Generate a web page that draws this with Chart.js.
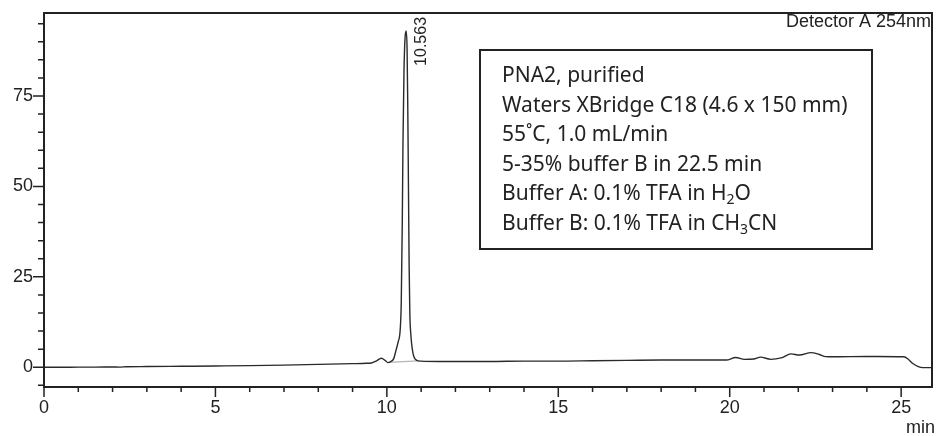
<!DOCTYPE html>
<html>
<head>
<meta charset="utf-8">
<title>PNA2 HPLC</title>
<script src="https://cdn.jsdelivr.net/npm/chart.js@4.4.0/dist/chart.umd.min.js"></script>
<style>
  html, body { margin: 0; padding: 0; background: #fff; }
  #wrap { width: 938px; height: 436px; }
</style>
</head>
<body>
<div id="wrap"><canvas id="chrom" width="938" height="436"></canvas></div>
<script>
// Cromatograma PNA2 purificado, detector A 254 nm
const tiempos = [0, 0.5, 1, 1.5, 2, 2.2, 2.4, 3, 4, 5, 6, 7, 8, 9, 9.4, 9.55, 9.7, 9.84, 9.95, 10.03,
    10.1, 10.2, 10.27, 10.33, 10.39, 10.42, 10.45, 10.47, 10.5, 10.53, 10.563, 10.59, 10.61, 10.63,
    10.65, 10.67, 10.7, 10.76, 10.86, 11, 11.5, 12, 13, 14, 15, 16, 17, 18, 19, 19.9, 20.17, 20.43,
    20.7, 20.9, 21.2, 21.5, 21.79, 22.03, 22.37, 22.6, 22.8, 23, 24, 24.3, 25.07, 25.2, 25.33, 25.5,
    25.63, 25.9];
const senal = [0, 0, 0.05, 0.05, 0.1, 0.05, 0.15, 0.2, 0.28, 0.36, 0.45, 0.6, 0.8, 1.0, 1.1, 1.2,
    1.8, 2.5, 1.9, 1.3, 1.5, 2.4, 4.8, 7, 10.5, 18, 40, 62, 82, 91, 93, 88, 72, 50, 28, 15, 9, 4, 2,
    1.7, 1.6, 1.6, 1.6, 1.7, 1.7, 1.8, 1.9, 2.0, 2.0, 2.0, 2.7, 2.2, 2.3, 2.8, 2.2, 2.6, 3.7, 3.4,
    4.05, 3.6, 2.95, 2.9, 3.0, 3.0, 2.9, 2.3, 1.1, 0.2, -0.1, -0.1];

// linea base de integracion del pico
const baseTiempos = [10.05, 10.9];
const baseSenal = [1.35, 1.75];

const picoTiempo = 10.563;
const picoAltura = 93;

const xTicks = [0, 5, 10, 15, 20, 25];
const yTicks = [0, 25, 50, 75];

// texto del recuadro: [texto, subindice]
const info = [
    [["PNA2, purified", false]],
    [["Waters XBridge C18 (4.6 x 150 mm)", false]],
    [["55\u02DAC, 1.0 mL/min", false]],
    [["5-35% buffer B in 22.5 min", false]],
    [["Buffer A: 0.1% TFA in H", false], ["2", true], ["O", false]],
    [["Buffer B: 0.1% TFA in CH", false], ["3", true], ["CN", false]]
];

const tinta = '#222';
const fuenteEje = "'Liberation Sans', Arial, sans-serif";

const marco = {
    id: 'marco',
    afterDraw(chart) {
        const { ctx, chartArea: a, scales: { x, y } } = chart;
        ctx.save();
        ctx.strokeStyle = tinta;
        ctx.lineWidth = 1.5;

        // marcas del eje x (cada minuto, mayores cada 5)
        ctx.beginPath();
        for (let v = 0; v <= 25; v++) {
            const px = x.getPixelForValue(v);
            ctx.moveTo(px, a.bottom);
            ctx.lineTo(px, a.bottom + (v % 5 === 0 ? 10 : 5));
        }
        // marcas del eje y (cada 5, mayores cada 25)
        for (let v = -5; v <= 95; v += 5) {
            const py = y.getPixelForValue(v);
            ctx.moveTo(a.left, py);
            ctx.lineTo(a.left - (v % 25 === 0 ? 11 : 6), py);
        }
        ctx.stroke();

        // marco del grafico
        ctx.lineWidth = 2;
        ctx.strokeRect(a.left, a.top, a.right - a.left, a.bottom - a.top);

        // detector y unidades
        ctx.fillStyle = tinta;
        ctx.font = '18px ' + fuenteEje;
        ctx.textBaseline = 'middle';
        ctx.textAlign = 'right';
        ctx.fillText('Detector A 254nm', a.right - 1, a.top + 9.5);
        ctx.fillText('min', 935, 428);

        // tiempo de retencion del pico, vertical
        const px = x.getPixelForValue(picoTiempo);
        const py = y.getPixelForValue(picoAltura);
        ctx.save();
        ctx.translate(px + 15, py + 35);
        ctx.rotate(-Math.PI / 2);
        ctx.textAlign = 'left';
        ctx.font = '16px ' + fuenteEje;
        ctx.fillText(picoTiempo.toFixed(3), 0, 0);
        ctx.restore();

        // recuadro con condiciones
        ctx.lineWidth = 2;
        ctx.strokeRect(480, 50, 392, 199);
        ctx.textAlign = 'left';
        ctx.textBaseline = 'alphabetic';
        info.forEach((partes, i) => {
            let cx = 502;
            const base = 82 + i * 29.6;
            partes.forEach(([txt, sub]) => {
                ctx.font = (sub ? '14px' : '21px') + " 'Noto Sans', sans-serif";
                ctx.fillText(txt, cx, sub ? base + 4 : base);
                cx += ctx.measureText(txt).width;
            });
        });
        ctx.restore();
    }
};

new Chart(document.getElementById('chrom'), {
    type: 'line',
    data: {
        datasets: [
            {
                data: tiempos.map((t, i) => ({ x: t, y: senal[i] })),
                borderColor: '#2a2a2a',
                borderWidth: 1.4,
                pointRadius: 0,
                cubicInterpolationMode: 'monotone'
            },
            {
                data: baseTiempos.map((t, i) => ({ x: t, y: baseSenal[i] })),
                borderColor: '#b5b5b5',
                borderWidth: 1.2,
                pointRadius: 0
            }
        ]
    },
    options: {
        responsive: false,
        animation: false,
        layout: { padding: { top: 13, right: 6, left: 0, bottom: 0 } },
        plugins: {
            legend: { display: false },
            tooltip: { enabled: false }
        },
        scales: {
            x: {
                type: 'linear',
                min: 0,
                max: 25.9,
                grid: { display: false, drawTicks: false },
                border: { display: false },
                afterBuildTicks: s => { s.ticks = xTicks.map(v => ({ value: v })); },
                afterFit: s => { s.height = 49; s.paddingLeft = 0; s.paddingRight = 0; },
                ticks: {
                    autoSkip: false,
                    maxRotation: 0,
                    padding: 10,
                    color: tinta,
                    font: { family: fuenteEje, size: 18 }
                }
            },
            y: {
                min: -5.45,
                max: 97.95,
                grid: { display: false, drawTicks: false },
                border: { display: false },
                afterBuildTicks: s => { s.ticks = yTicks.map(v => ({ value: v })); },
                afterFit: s => { s.width = 44; s.paddingTop = 0; s.paddingBottom = 0; },
                ticks: {
                    autoSkip: false,
                    padding: 11,
                    color: tinta,
                    font: { family: fuenteEje, size: 18 }
                }
            }
        }
    },
    plugins: [marco]
});
</script>
</body>
</html>
